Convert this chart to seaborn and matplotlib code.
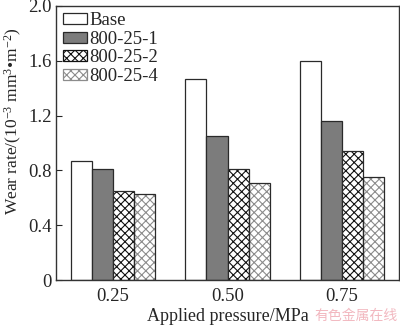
import matplotlib
matplotlib.use("Agg")
import matplotlib.pyplot as plt
from matplotlib.patches import Rectangle
import seaborn as sns
import pandas as pd

# Wear rate (10^-3 mm^3/m^2) for each sample at three applied pressures
pressures = ["0.25", "0.50", "0.75"]
samples = ["Base", "800-25-1", "800-25-2", "800-25-4"]
base = [0.87, 1.47, 1.60]
s1 = [0.81, 1.05, 1.16]
s2 = [0.65, 0.81, 0.94]
s4 = [0.63, 0.71, 0.75]
y_ticks = [0, 0.4, 0.8, 1.2, 1.6, 2.0]
y_tick_labels = ["0", "0.4", "0.8", "1.2", "1.6", "2.0"]

rows = []
for name, vals in zip(samples, [base, s1, s2, s4]):
    for p, v in zip(pressures, vals):
        rows.append({"pressure": p, "sample": name, "rate": v})
df = pd.DataFrame(rows)

sns.set_theme(style="ticks")
plt.rcParams["font.family"] = ["Liberation Serif", "DejaVu Serif"]
plt.rcParams["mathtext.fontset"] = "custom"
plt.rcParams["mathtext.rm"] = "Liberation Serif"
plt.rcParams["mathtext.it"] = "Liberation Serif:italic"
plt.rcParams["hatch.linewidth"] = 0.8

fig = plt.figure(figsize=(4.0, 3.26), dpi=100)
ax = fig.add_axes([0.14, 0.141, 0.8575, 0.841])

fills = ["white", "#7c7c7c", "white", "white"]
edge = "#2a2a2a"
sns.barplot(data=df, x="pressure", y="rate", hue="sample", hue_order=samples,
            palette=fills, width=0.74, edgecolor=edge, linewidth=0.9,
            saturation=1, ax=ax)

# cross-hatched fills: dense black for 800-25-2, light grey for 800-25-4
hatch_styles = {2: ("xxxx", "#111111"), 3: ("xxxx", "#8c8c8c")}

outlines = []
for i, container in enumerate(ax.containers):
    if i in hatch_styles:
        hatch, hcol = hatch_styles[i]
        for patch in container:
            patch.set_hatch(hatch)
            patch.set_edgecolor(hcol)
            patch.set_linewidth(0)
            outlines.append(Rectangle(patch.get_xy(), patch.get_width(), patch.get_height(),
                                      fill=False, edgecolor=edge, linewidth=0.9,
                                      zorder=patch.get_zorder() + 0.1))
for r in outlines:
    ax.add_patch(r)

ax.set_xlim(-0.5, 2.5)
ax.set_ylim(0, 2.0)
ax.set_yticks(y_ticks)
ax.set_yticklabels(y_tick_labels)
ax.tick_params(axis="y", direction="in", length=4, width=0.8, labelsize=13.5, pad=3, right=False)
ax.tick_params(axis="x", length=0, labelsize=13.5, pad=6)
for sp in ax.spines.values():
    sp.set_linewidth(1.0)
    sp.set_color("#333333")
    sp.set_visible(True)

ax.set_xlabel("Applied pressure/MPa", fontsize=13, labelpad=2)
ax.set_ylabel("Wear rate/(10$^{-3}$ mm$^{3}$•m$^{-2}$)", fontsize=12.5)
ax.yaxis.set_label_coords(-0.092, 0.58)

leg = ax.legend(loc="upper left", frameon=False, fontsize=13.5, handlelength=1.3, handleheight=0.55,
                handletextpad=0.15, labelspacing=0.08, borderaxespad=0.15, borderpad=0.2)
for i, h in enumerate(leg.legend_handles):
    h.set_linewidth(0.9)
    h.set_edgecolor(edge)
    if i in hatch_styles:
        hatch, hcol = hatch_styles[i]
        h.set_hatch(hatch)
        h.set_edgecolor(hcol)

fig.text(0.995, 0.008, "有色金属在线", fontsize=10, color="#f2b8c0", ha="right", va="bottom",
         family=["Noto Sans CJK SC", "DejaVu Sans"])

fig.savefig("out.png", dpi=100)
